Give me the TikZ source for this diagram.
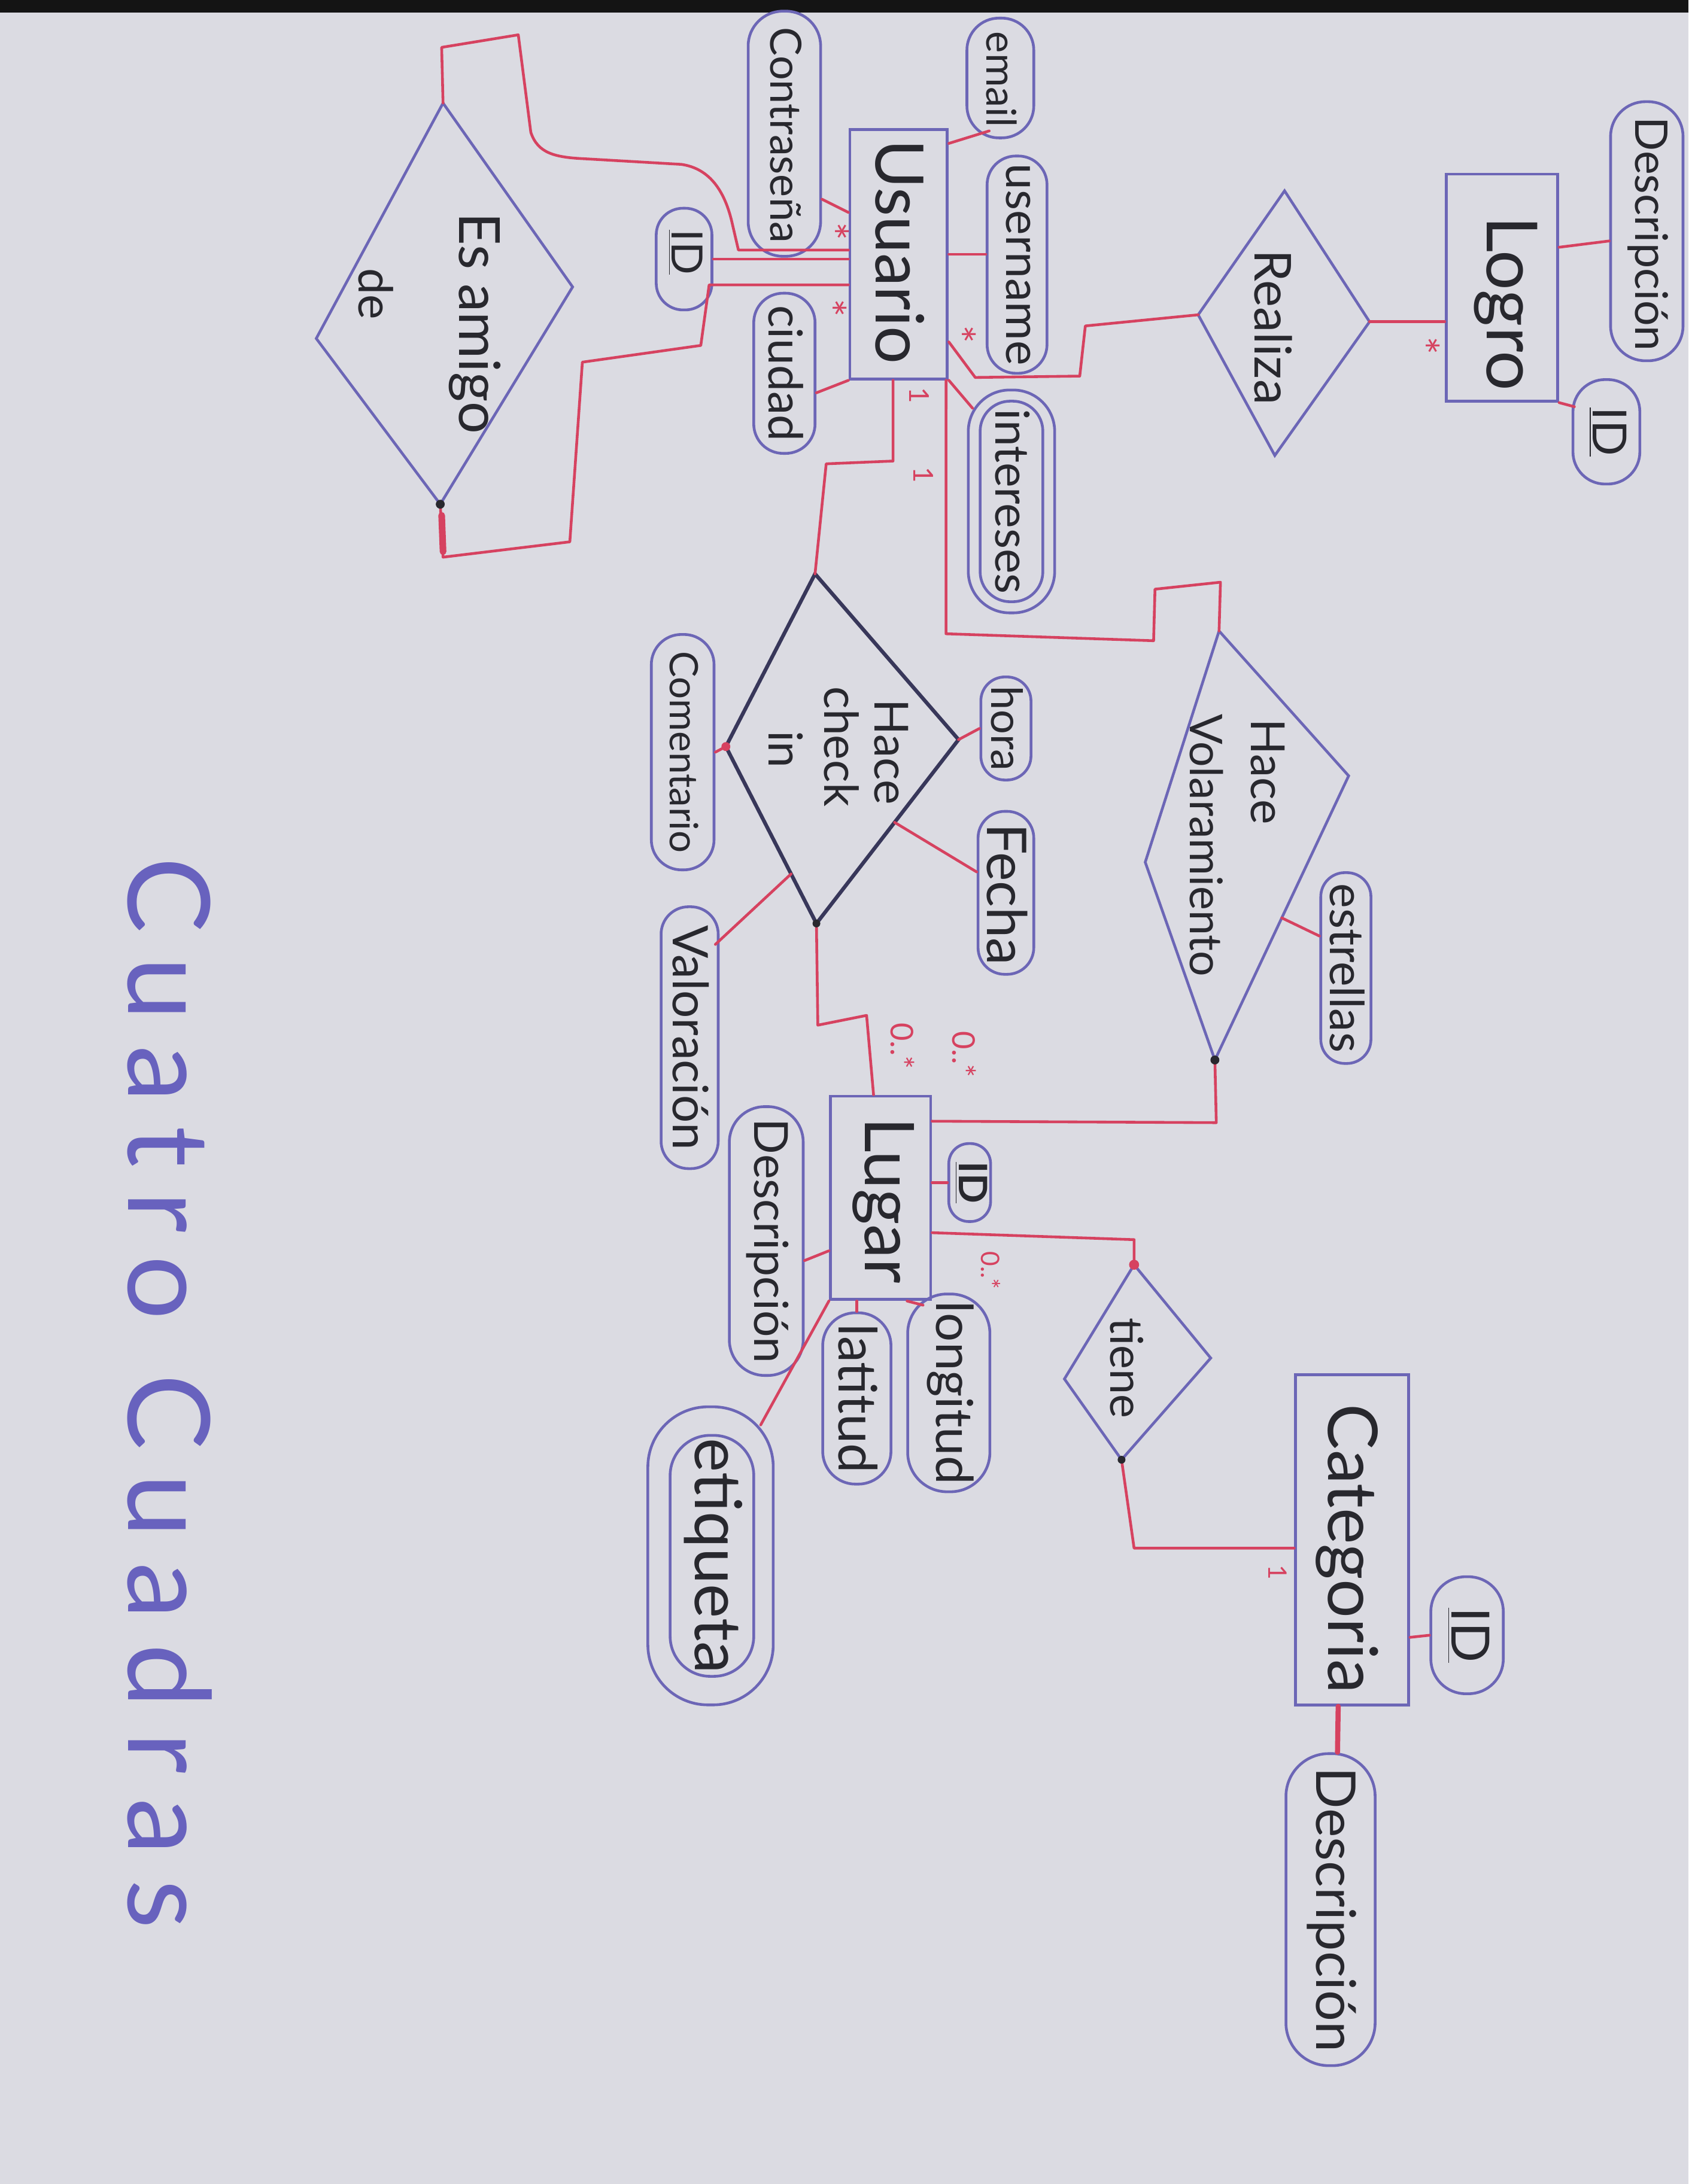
\documentclass[tikz,border=0pt]{standalone}
\usepackage{fontspec}
\setmainfont{Lato}
\usepackage{graphicx}
\usetikzlibrary{calc}
\definecolor{paper}{RGB}{219,219,226}
\definecolor{ink}{RGB}{108,102,182}
\definecolor{redl}{RGB}{214,66,96}
\definecolor{txt}{RGB}{40,40,46}
\definecolor{darkink}{RGB}{56,55,90}
\definecolor{titleink}{RGB}{104,98,190}
\tikzset{
  ent/.style 2 args={draw=ink, line width=1.5pt, rectangle, minimum width=#1*0.25mm, minimum height=#2*0.25mm, inner sep=0pt},
  att/.style 2 args={draw=ink, line width=1.4pt, rectangle, rounded corners=#1*0.12mm, minimum width=#1*0.25mm, minimum height=#2*0.25mm, inner sep=0pt},
  relshape/.style={draw=ink, line width=1.4pt, line join=miter},
  reldark/.style={draw=darkink, line width=1.9pt, line join=miter},
  lbl/.style={text=txt, rotate=-90, inner sep=0pt, font=\fontsize{#1}{#1}\selectfont},
  conn/.style={draw=redl, line width=1.4pt, line join=round, line cap=round},
  card/.style={text=redl, rotate=-90, inner sep=0pt, font=\fontsize{#1}{#1}\selectfont},
}
\begin{document}
\begin{tikzpicture}[x=0.25mm, y=-0.25mm]
\useasboundingbox (0,0) rectangle (1212,1568);
\fill[paper] (0,0) rectangle (1212,1568);
\fill[black!92] (0,0) rectangle (1212,9);

% ---------- entities
\node[ent={70}{179}] (usuario) at (645,182.5) {};
\node[lbl=34] (t-usuario) at (646,181) {Usuario};
\node[ent={80}{163}] (logro) at (1078,206.5) {};
\node[lbl=36] (t-logro) at (1081,218) {Logro};
\node[ent={72}{146}] (lugar) at (632,860) {};
\node[lbl=35] (t-lugar) at (634,862) {Lugar};
\node[ent={81}{237}] (categoria) at (970.5,1105.5) {};
\node[lbl=35] (t-categoria) at (967,1112) {Categoria};

% ---------- attributes
\node[att={48}{86}] (email) at (718,56) {};
\node[lbl=21] (t-email) at (719,57) {email};
\node[att={43}{156}] (username) at (730,190) {};
\node[lbl=24] (t-username) at (731,190) {username};
\node[att={52}{176}] (contra) at (563,96) {};
\node[lbl=22] (t-contra) at (564,97) {Contraseña};
\node[att={40}{73}] (idu) at (491,186) {};
\node[lbl=22] (t-idu) at (492,181) {\underline{ID}};
\node[att={44}{115}] (ciudad) at (563,268) {};
\node[lbl=24] (t-ciudad) at (564,268) {ciudad};
\node[att={62}{160}] (intereses) at (726,360) {};
\node[att={45}{144}] (intereses-in) at (726,360) {};
\node[lbl=24] (t-intereses) at (727,360) {intereses};

\node[att={52}{186}] (desclogro) at (1182,166) {};
\node[lbl=23] (t-desclogro) at (1183,168) {Descripción};
\node[att={48}{75}] (idlogro) at (1153,310) {};
\node[lbl=24] (t-idlogro) at (1154,310) {\underline{ID}};

\node[att={36}{74}] (hora) at (722,523) {};
\node[lbl=22] (t-hora) at (723,523) {hora};
\node[att={40}{117}] (fecha) at (722,641) {};
\node[lbl=28] (t-fecha) at (723,642) {Fecha};
\node[att={45}{169}] (comentario) at (490,540) {};
\node[lbl=20] (t-comentario) at (491,540) {Comentario};
\node[att={41}{188}] (valoracion) at (495,745) {};
\node[lbl=25] (t-valoracion) at (496,745) {Valoración};
\node[att={36}{137}] (estrellas) at (966,695) {};
\node[lbl=24] (t-estrellas) at (967,695) {estrellas};

\node[att={30}{56}] (idlugar) at (696,849) {};
\node[lbl=20] (t-idlugar) at (697,849) {\underline{\textbf{ID}}};
\node[att={53}{193}] (desclugar) at (550,891) {};
\node[lbl=24] (t-desclugar) at (551,891) {Descripción};
\node[att={49}{123}] (latitud) at (615,1004) {};
\node[lbl=27] (t-latitud) at (616,1004) {latitud};
\node[att={59}{142}] (longitud) at (681,1000) {};
\node[lbl=26] (t-longitud) at (682,1000) {longitud};
\node[att={90}{214}] (etiqueta) at (510,1117) {};
\node[att={60}{173}] (etiqueta-in) at (511,1117) {};
\node[lbl=33] (t-etiqueta) at (512,1117) {etiqueta};

\node[att={52}{84}] (idcat) at (1053,1174) {};
\node[lbl=27] (t-idcat) at (1054,1174) {\underline{ID}};
\node[att={64}{224}] (desccat) at (955,1371) {};
\node[lbl=28] (t-desccat) at (956,1371) {Descripción};

% ---------- relationships
\coordinate (ea-t) at (318,74);  \coordinate (ea-r) at (411,206);
\coordinate (ea-b) at (316,362); \coordinate (ea-l) at (227,243);
\draw[relshape] (ea-t) -- (ea-r) -- (ea-b) -- (ea-l) -- cycle;
\node[lbl=29] (t-ea1) at (341,232) {Es amigo};
\node[lbl=24] (t-ea2) at (270,211) {de};

\coordinate (rz-t) at (922,137); \coordinate (rz-r) at (983,231);
\coordinate (rz-b) at (915,327); \coordinate (rz-l) at (860,226);
\draw[relshape] (rz-t) -- (rz-r) -- (rz-b) -- (rz-l) -- cycle;
\node[lbl=26] (t-rz) at (914,235) {Realiza};

\coordinate (hc-t) at (585,412); \coordinate (hc-r) at (688,531);
\coordinate (hc-b) at (586,663); \coordinate (hc-l) at (521,536);
\draw[reldark] (hc-t) -- (hc-r) -- (hc-b) -- (hc-l) -- cycle;
\node[lbl=24] (t-hc1) at (640,540) {Hace};
\node[lbl=24] (t-hc2) at (604,536) {check};
\node[lbl=24] (t-hc3) at (564,538) {in};

\coordinate (hv-t) at (875,453); \coordinate (hv-r) at (968,557);
\coordinate (hv-b) at (872,761); \coordinate (hv-l) at (822,619);
\draw[relshape] (hv-t) -- (hv-r) -- (hv-b) -- (hv-l) -- cycle;
\node[lbl=24] (t-hv1) at (910,554) {Hace};
\node[lbl=23] (t-hv2) at (866,607) {Volaramiento};

\coordinate (tn-t) at (814,908); \coordinate (tn-r) at (869,975);
\coordinate (tn-b) at (805,1048); \coordinate (tn-l) at (764,990);
\draw[relshape] (tn-t) -- (tn-r) -- (tn-b) -- (tn-l) -- cycle;
\node[lbl=23] (t-tn) at (809,982) {tiene};

% ---------- connectors
\draw[conn] ($(email.south)+(-8,-6)$) -- ($(usuario.north east)+(0,11)$);
\draw[conn] (usuario.east) -- (usuario.east -| username.west);
\draw[conn] ($(contra.east)+(0,47)$) -- ($(usuario.west)+(0,-30)$);
\draw[conn] (idu.east) -- (idu.east -| usuario.west);
\draw[conn] ($(ciudad.east)+(0,14)$) -- (usuario.south west);
\draw[conn] (usuario.south east) -- ($(intereses.north west)+(4,14)$);

\draw[conn] (ea-t) -- (317,34) -- (372,25) -- (381,95) .. controls (386,110) and (398,113) .. (420,114) -- (489,118) .. controls (510,121) and (520,138) .. (525,158) -- (530,179.5) -- ($(usuario.west)+(0,-3)$);
\draw[conn] (ea-b) -- (318,400) -- (409,389) -- (418,260) -- (503,248) -- (509,204.5) -- ($(usuario.west)+(0,22)$);
\draw[redl, line width=3.4pt, line cap=round] ($(ea-b)+(1,8)$) -- (318,396);

\draw[conn] ($(usuario.east)+(0,63)$) -- (700,271) -- (775,270) -- (779,234) -- (rz-l);
\draw[conn] (rz-r) -- (rz-r -| logro.west);
\draw[conn] ($(logro.east)+(0,-29)$) -- ($(desclogro.west)+(0,7)$);
\draw[conn] (logro.south east) -- ($(idlogro.west)+(2,-18)$);

\draw[conn] ($(usuario.south)+(-4,0)$) -- (641,331) -- (593,333) -- (hc-t);
\draw[conn] ($(usuario.south east)+(-2,0)$) -- (679,455) -- (828,460) -- (829,423) -- (876,418) -- (hv-t);
\draw[conn] (hc-b) -- (587,736) -- (622,729) -- ($(lugar.north)+(-5,0)$);
\draw[conn] (hc-r) -- (hora.west);
\draw[conn] ($(hc-r)!0.45!(hc-b)$) -- ($(fecha.west)+(0,-15)$);
\draw[conn] (hc-l) -- (comentario.east);
\draw[conn] ($(hc-l)!0.72!(hc-b)$) -- ($(valoracion.north east)+(-3,28)$);

\draw[conn] ($(hv-r)!0.5!(hv-b)$) -- ($(estrellas.west)+(0,-23)$);
\draw[conn] (hv-b) -- (873,806) -- ($(lugar.north east)+(0,19)$);

\draw[conn] (lugar.east |- idlugar.west) -- (idlugar.west);
\draw[conn] ($(desclugar.east)+(0,14)$) -- ($(lugar.west)+(0,38)$);
\draw[conn] (lugar.south -| latitud.north) -- (latitud.north);
\draw[conn] ($(lugar.south east)+(-18,0)$) -- ($(longitud.north west)+(12,9)$);
\draw[conn] (lugar.south west) -- ($(etiqueta.north east)+(-10,14)$);
\draw[conn] ($(lugar.east)+(0,25)$) -- (814,890) -- (tn-t);
\draw[conn] (tn-b) -- (814,1111.5) -- ($(categoria.west)+(0,6)$);
\draw[conn] ($(categoria.east)+(0,70)$) -- (idcat.west);
\draw[conn, line width=2.6pt] ($(categoria.south)+(-10,0)$) -- ($(desccat.north)+(5,0)$);

% ---------- pen dots
\fill[txt] (ea-b) circle[radius=0.8mm];
\fill[txt] (hv-b) circle[radius=0.8mm];
\fill[txt] (tn-b) circle[radius=0.7mm];
\fill[txt] (hc-b) circle[radius=0.7mm];
\fill[redl] (tn-t) circle[radius=0.9mm];
\fill[redl] (hc-l) circle[radius=0.8mm];

% ---------- cardinalities
\node[card=22] (c1) at (598,166) {*};
\node[card=22] (c2) at (596,221) {*};
\node[card=22] (c3) at (689,240) {*};
\node[card=22] (c4) at (1022,248) {*};
\node[card=14] (c5) at (660,284) {1};
\node[card=14] (c6) at (663,341) {1};
\node[card=16] (c7) at (648,751) {0..*};
\node[card=16] (c8) at (692,757) {0..*};
\node[card=13] (c9) at (711,912) {0..*};
\node[card=13] (c10) at (917,1129) {1};

% ---------- title
\node[text=titleink, rotate=-90, inner sep=0pt, font=\fontsize{58}{58}\selectfont\addfontfeature{LetterSpace=22}] (titulo) at (122,1000) {Cuatro Cuadras};
\end{tikzpicture}
\end{document}
